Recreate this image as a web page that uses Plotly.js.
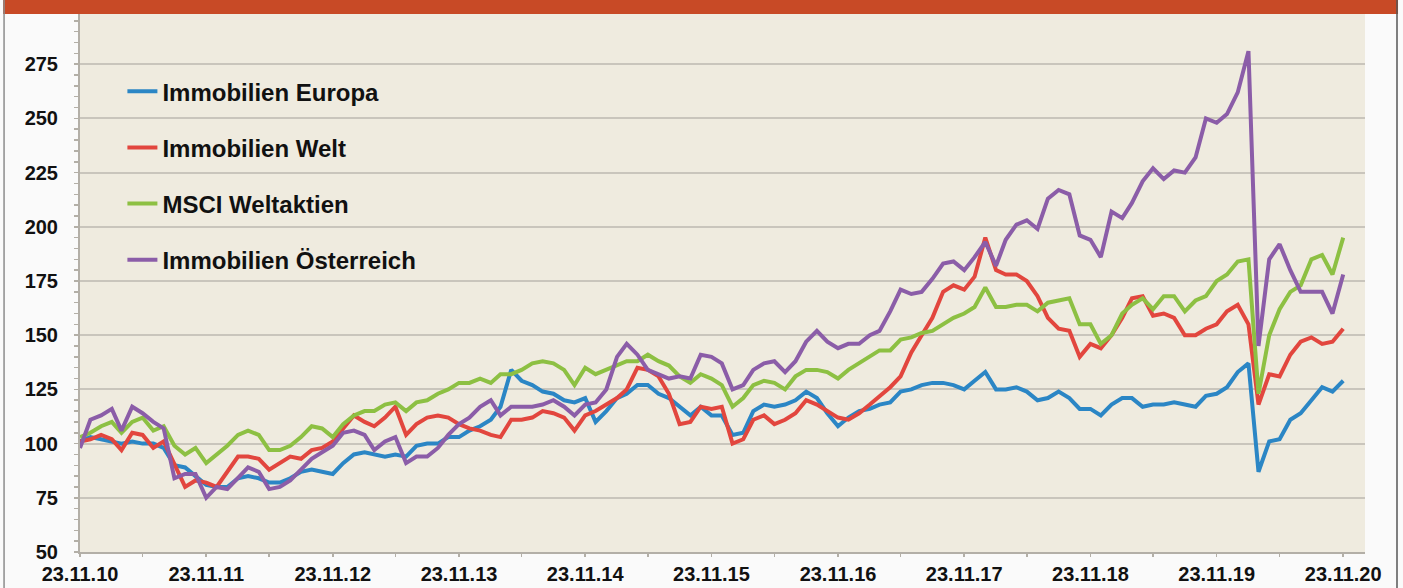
<!DOCTYPE html>
<html>
<head>
<meta charset="utf-8">
<script src="https://cdn.plot.ly/plotly-3.0.1.min.js"></script>
<style>
html,body{margin:0;padding:0;background:#FAFAFA;}
#chart{width:1403px;height:588px;}
</style>
</head>
<body>
<div id="chart"></div>
<script>
// monthly observations, 23.11.2010 ... 23.11.2020
const startYear = 2010, startMonth = 11, dayOfMonth = 23, nMonths = 121;

const immobilienEuropa = [
 101,103,102,101,100,101,100,100,98,90,89,85,81,
 80,80,84,85,84,82,82,84,87,88,87,86,
 91,95,96,95,94,95,94,99,100,100,103,103,
 106,108,111,117,134,129,127,124,123,120,119,121,
 110,115,121,123,127,127,123,121,117,113,117,113,
 113,104,105,115,118,117,118,120,124,121,114,108,
 112,115,116,118,119,124,125,127,128,128,127,125,
 129,133,125,125,126,124,120,121,124,121,116,116,
 113,118,121,121,117,118,118,119,118,117,122,123,
 126,133,137,87,101,102,111,114,120,126,124,129
];
const immobilienWelt = [
 101,102,104,102,97,105,104,98,101,91,80,83,82,
 80,87,94,94,93,88,91,94,93,97,98,101,
 107,113,110,108,112,117,104,109,112,113,112,109,
 107,106,104,103,111,111,112,115,114,112,106,113,
 115,118,121,125,135,134,131,123,109,110,117,116,
 117,100,102,111,113,109,111,114,120,118,115,112,
 111,114,118,122,126,131,142,150,158,170,173,171,
 177,195,180,178,178,175,168,158,153,152,140,146,
 144,150,158,167,168,159,160,158,150,150,153,155,
 161,164,155,118,132,131,141,147,149,146,147,153
];
const msciWeltaktien = [
 103,105,108,110,105,110,112,106,108,99,95,98,91,
 95,99,104,106,104,97,97,99,103,108,107,103,
 109,113,115,115,118,119,115,119,120,123,125,128,
 128,130,128,132,132,134,137,138,137,134,127,135,
 132,134,136,138,138,141,138,136,131,128,132,130,
 127,117,121,127,129,128,125,131,134,134,133,130,
 134,137,140,143,143,148,149,151,152,155,158,160,
 163,172,163,163,164,164,161,165,166,167,155,155,
 146,150,160,164,167,162,168,168,161,166,168,175,
 178,184,185,123,150,162,170,173,185,187,178,195
];
const immobilienOesterreich = [
 98,111,113,116,106,117,114,110,107,84,86,86,75,
 80,79,84,89,87,79,80,83,88,93,96,99,
 105,106,104,97,101,103,91,94,94,98,104,109,
 112,117,120,113,117,117,117,118,120,117,113,118,
 119,125,140,146,141,134,132,130,131,130,141,140,
 137,125,127,134,137,138,133,138,147,152,147,144,
 146,146,150,152,161,171,169,170,176,183,184,180,
 186,193,182,194,201,203,199,213,217,215,196,194,
 186,207,204,211,221,227,222,226,225,232,250,248,
 252,262,281,145,185,192,180,170,170,170,160,178
];

const seriesNames = ["Immobilien Europa", "Immobilien Welt", "MSCI Weltaktien", "Immobilien Österreich"];
const seriesColors = ["#2B86C5", "#E2463E", "#8DC043", "#8B5DA8"];
const xTickLabels = ["23.11.10","23.11.11","23.11.12","23.11.13","23.11.14","23.11.15","23.11.16","23.11.17","23.11.18","23.11.19","23.11.20"];

function pad(n){ return String(n).padStart(2, "0"); }
const dates = [];
for (let m = 0; m < nMonths; m++) {
  const y = startYear + Math.floor((startMonth - 1 + m) / 12);
  const mo = (startMonth - 1 + m) % 12 + 1;
  dates.push(y + "-" + pad(mo) + "-" + pad(dayOfMonth));
}
const xTickVals = xTickLabels.map((t, i) => (startYear + i) + "-11-23");
const xMinorVals = xTickLabels.slice(1).map((t, i) => (startYear + i + 1) + "-05-23");

const allSeries = [immobilienEuropa, immobilienWelt, msciWeltaktien, immobilienOesterreich];
const traces = allSeries.map((vals, i) => ({
  type: "scatter", mode: "lines", x: dates, y: vals,
  name: seriesNames[i], legendgroup: "g" + i,
  line: {color: seriesColors[i], width: 4}
}));

const FONT = "Liberation Sans, Arial, Helvetica, sans-serif";
const axisGrey = "#B3AFA7";

const layout = {
  width: 1403, height: 588,
  margin: {l: 80, r: 38, t: 10, b: 36},
  paper_bgcolor: "#FAFAFA",
  plot_bgcolor: "#EFEBDF",
  showlegend: true,
  legend: {
    x: 0.033, y: 0.891, xanchor: "left", yanchor: "top",
    bgcolor: "rgba(0,0,0,0)", borderwidth: 0,
    tracegroupgap: 22, traceorder: "grouped",
    font: {family: FONT, size: 24, color: "#111", weight: 700}
  },
  xaxis: {
    type: "date", range: ["2010-11-23", "2021-01-25"],
    tickmode: "array", tickvals: xTickVals, ticktext: xTickLabels,
    ticks: "outside", ticklen: 3, tickwidth: 1.5, tickcolor: axisGrey,
    minor: {tickvals: xMinorVals, ticks: "outside", ticklen: 3, tickwidth: 1.5, tickcolor: axisGrey, showgrid: false},
    showgrid: false, showline: true, linecolor: axisGrey, linewidth: 2,
    zeroline: false, ticklabelstandoff: 0,
    tickfont: {family: FONT, size: 20, color: "#111", weight: 700}
  },
  yaxis: {
    range: [50, 300], tick0: 50, dtick: 25,
    ticks: "outside", ticklen: 4, tickwidth: 1.5, tickcolor: axisGrey,
    minor: {dtick: 5, ticks: "outside", ticklen: 4, tickwidth: 1.5, tickcolor: axisGrey, showgrid: false},
    showgrid: true, gridcolor: "#C9C5BC", gridwidth: 2,
    showline: true, linecolor: axisGrey, linewidth: 2,
    zeroline: false, ticklabelstandoff: 12,
    tickfont: {family: FONT, size: 20, color: "#111", weight: 700}
  },
  xaxis2: {
    overlaying: "x", anchor: "y", type: "date", range: ["2010-11-23", "2021-01-25"],
    tickmode: "array", tickvals: xTickVals, ticks: "inside", ticklen: 5, tickwidth: 1.5, tickcolor: axisGrey,
    minor: {tickvals: xMinorVals, ticks: "inside", ticklen: 4, tickwidth: 1.5, tickcolor: axisGrey},
    showticklabels: false, showgrid: false, showline: false, zeroline: false
  },
  yaxis2: {
    overlaying: "y", anchor: "x", range: [50, 300], tick0: 50, dtick: 25,
    ticks: "inside", ticklen: 4, tickwidth: 1.5, tickcolor: axisGrey,
    minor: {dtick: 5, ticks: "inside", ticklen: 4, tickwidth: 1.5, tickcolor: axisGrey},
    showticklabels: false, showgrid: false, showline: false, zeroline: false
  },
  shapes: [
    {type: "rect", xref: "paper", yref: "paper", x0: -0.0599, x1: 1.0257, y0: 0.9926, y1: 1.02,
     fillcolor: "#C84A26", line: {width: 0}, layer: "above"},
    {type: "line", xref: "paper", yref: "paper", x0: -0.0591, x1: -0.0591, y0: -0.07, y1: 1.02,
     line: {color: "#8C8C8C", width: 1.5}, layer: "above"},
    {type: "line", xref: "paper", yref: "paper", x0: 1.0249, x1: 1.0249, y0: -0.07, y1: 1.02,
     line: {color: "#555555", width: 1.5}, layer: "above"}
  ]
};

Plotly.newPlot("chart", traces, layout, {displayModeBar: false, staticPlot: true});
</script>
</body>
</html>
